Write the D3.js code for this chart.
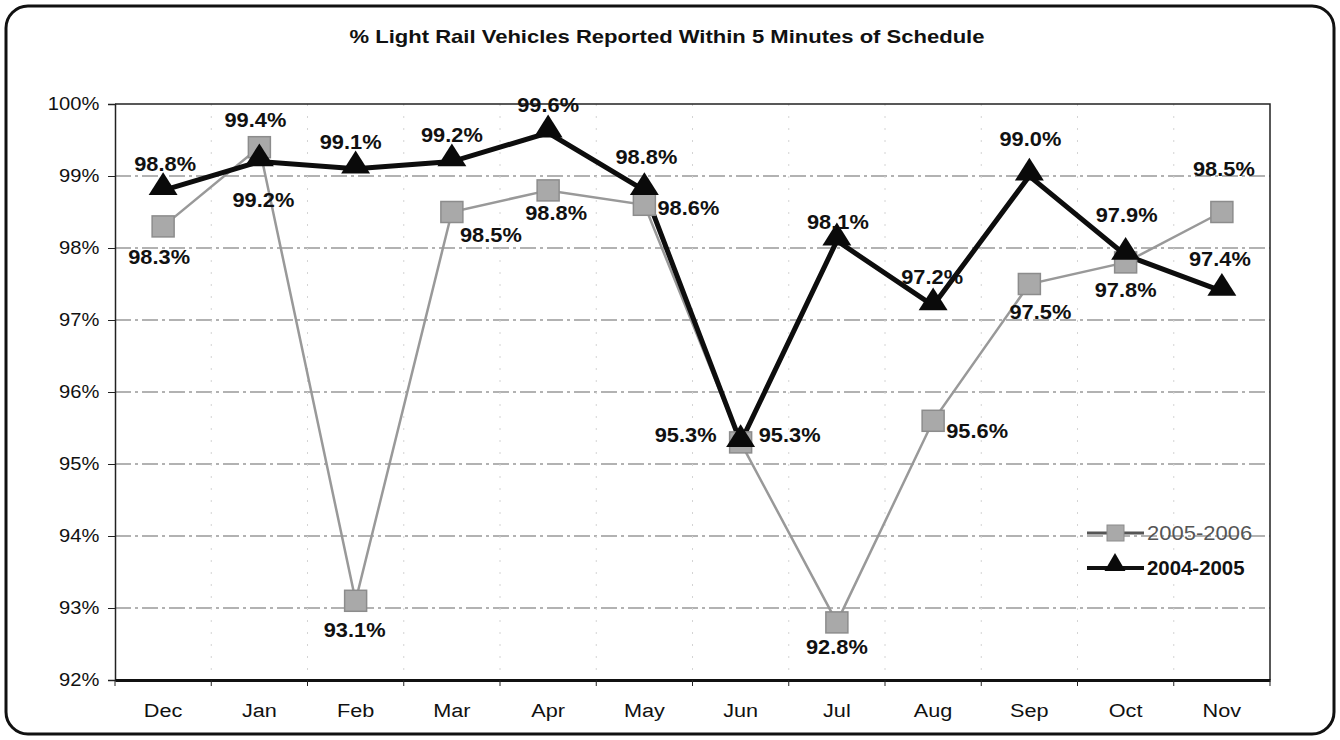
<!DOCTYPE html>
<html>
<head>
<meta charset="utf-8">
<script src="https://cdn.jsdelivr.net/npm/d3@7"></script>
<style>
  body { margin: 0; background: #fff; }
  text { font-family: "Liberation Sans", Arial, sans-serif; }
</style>
</head>
<body>
<svg id="chart" width="1340" height="740"></svg>
<script>
// data
var months = ["Dec", "Jan", "Feb", "Mar", "Apr", "May", "Jun", "Jul", "Aug", "Sep", "Oct", "Nov"];
var yTicks = [92, 93, 94, 95, 96, 97, 98, 99, 100];
var s2005 = [98.3, 99.4, 93.1, 98.5, 98.8, 98.6, 95.3, 92.8, 95.6, 97.5, 97.8, 98.5];
var s2004 = [98.8, 99.2, 99.1, 99.2, 99.6, 98.8, 95.3, 98.1, 97.2, 99.0, 97.9, 97.4];

// label placement, [dx, dy] from each point (layout only)
var off2005 = [[-4, 38], [-4, -20], [-1, 36], [39, 30], [8, 30], [44, 10], [-55, 0], [0, 32], [44, 17], [11, 35], [0, 35], [2, -36]];
var off2004 = [[2, -19], [4, 45], [-5, -20], [0, -20], [0, -21], [2, -26], [49, 0], [1, -12], [-1, -22], [1, -30], [1, -33], [-2, -25]];

var svg = d3.select("#chart");
var W = 1340, H = 740;

// the scanned original is a bit wider than it is tall, so text is stretched
function stretch(sel, s) {
  sel.each(function () {
    var t = d3.select(this);
    var tx = +t.attr("x") || 0, ty = +t.attr("y") || 0;
    t.attr("x", 0).attr("y", 0)
      .attr("transform", "translate(" + tx + "," + ty + ") scale(" + s + ",1)");
  });
}

// outer frame
svg.append("rect")
  .attr("x", 6).attr("y", 6).attr("width", W - 12).attr("height", H - 12)
  .attr("rx", 22).attr("ry", 22)
  .attr("fill", "#fff").attr("stroke", "#111").attr("stroke-width", 3);

svg.append("text")
  .attr("x", 667).attr("y", 43)
  .attr("text-anchor", "middle")
  .attr("font-size", 19).attr("font-weight", "bold").attr("fill", "#111")
  .text("% Light Rail Vehicles Reported Within 5 Minutes of Schedule")
  .call(stretch, 1.16);

var pL = 115, pR = 1270, pT = 104, pB = 680;

var x = d3.scaleBand().domain(months).range([pL, pR]);
var y = d3.scaleLinear().domain([92, 100]).range([pB, pT]);

// grid
svg.append("g").selectAll("line")
  .data(yTicks.slice(1, -1))
  .enter().append("line")
  .attr("x1", pL).attr("x2", pR)
  .attr("y1", function (d) { return y(d); })
  .attr("y2", function (d) { return y(d); })
  .attr("stroke", "#666").attr("stroke-width", 1.2)
  .attr("stroke-dasharray", "16,4,3,4");

svg.append("g").selectAll("line")
  .data(months.slice(1))
  .enter().append("line")
  .attr("x1", function (d) { return x(d); })
  .attr("x2", function (d) { return x(d); })
  .attr("y1", pT).attr("y2", pB)
  .attr("stroke", "#d4d4d4").attr("stroke-width", 1)
  .attr("stroke-dasharray", "2,10");

// plot border (top + right)
svg.append("path")
  .attr("d", "M" + pL + "," + pT + "H" + pR + "V" + pB)
  .attr("fill", "none").attr("stroke", "#222").attr("stroke-width", 1.5);

// axes
var yAxis = svg.append("g")
  .attr("transform", "translate(" + pL + ",0)")
  .call(d3.axisLeft(y).tickValues(yTicks).tickSize(7).tickPadding(7)
    .tickFormat(function (d) { return d + "%"; }));
yAxis.select(".domain").attr("stroke", "#222").attr("stroke-width", 1.5);
yAxis.selectAll("line").attr("stroke", "#222");
yAxis.selectAll("text").attr("font-size", 18).attr("fill", "#111")
  .style("font-family", "Liberation Sans, Arial, sans-serif")
  .attr("transform", "scale(1.12,1)");

var xAxis = svg.append("g")
  .attr("transform", "translate(0," + pB + ")")
  .call(d3.axisBottom(x).tickSize(0).tickPadding(24));
xAxis.select(".domain").attr("stroke", "#111").attr("stroke-width", 3);
xAxis.selectAll("text").attr("font-size", 19).attr("fill", "#111")
  .style("font-family", "Liberation Sans, Arial, sans-serif")
  .attr("transform", "scale(1.14,1)");

// tick marks at category boundaries
svg.append("g").selectAll("line")
  .data(d3.range(months.length + 1))
  .enter().append("line")
  .attr("x1", function (i) { return pL + i * x.step(); })
  .attr("x2", function (i) { return pL + i * x.step(); })
  .attr("y1", pB).attr("y2", pB + 6)
  .attr("stroke", "#222").attr("stroke-width", 1);

function cx(i) { return x(months[i]) + x.bandwidth() / 2; }

var line = d3.line()
  .x(function (d, i) { return cx(i); })
  .y(function (d) { return y(d); });

// 2005-2006 (gray)
svg.append("path").datum(s2005)
  .attr("d", line).attr("fill", "none")
  .attr("stroke", "#999").attr("stroke-width", 2.5);

// 2004-2005 (black)
svg.append("path").datum(s2004)
  .attr("d", line).attr("fill", "none")
  .attr("stroke", "#0d0d0d").attr("stroke-width", 5);

var sqW = 22, sqH = 21;
svg.append("g").selectAll("rect")
  .data(s2005)
  .enter().append("rect")
  .attr("x", function (d, i) { return cx(i) - sqW / 2; })
  .attr("y", function (d) { return y(d) - sqH / 2; })
  .attr("width", sqW).attr("height", sqH)
  .attr("fill", "#a9a9a9").attr("stroke", "#8c8c8c").attr("stroke-width", 1.5);

var tri = d3.symbol().type(d3.symbolTriangle).size(300);
svg.append("g").selectAll("path")
  .data(s2004)
  .enter().append("path")
  .attr("d", tri)
  .attr("transform", function (d, i) { return "translate(" + cx(i) + "," + (y(d) - 3) + ") scale(1.1,1)"; })
  .attr("fill", "#0a0a0a");

function labels(data, offs) {
  svg.append("g").selectAll("text")
    .data(data)
    .enter().append("text")
    .attr("x", function (d, i) { return cx(i) + offs[i][0]; })
    .attr("y", function (d, i) { return y(d) + offs[i][1]; })
    .attr("text-anchor", "middle")
    .attr("font-size", 20).attr("font-weight", "bold").attr("fill", "#111")
    .text(function (d) { return d.toFixed(1) + "%"; })
    .call(stretch, 1.09);
}
labels(s2005, off2005);
labels(s2004, off2004);

// legend
var lg = svg.append("g").attr("transform", "translate(1087,533)");
lg.append("line").attr("x1", 0).attr("x2", 57).attr("y1", 0).attr("y2", 0)
  .attr("stroke", "#555").attr("stroke-width", 3);
lg.append("rect").attr("x", 20).attr("y", -8).attr("width", 17).attr("height", 16)
  .attr("fill", "#a9a9a9").attr("stroke", "#8c8c8c");
lg.append("text").attr("x", 60).attr("y", 7).attr("font-size", 20).attr("fill", "#555")
  .text("2005-2006").call(stretch, 1.1);
lg.append("line").attr("x1", 0).attr("x2", 57).attr("y1", 35).attr("y2", 35)
  .attr("stroke", "#111").attr("stroke-width", 4);
lg.append("path").attr("d", d3.symbol().type(d3.symbolTriangle).size(190))
  .attr("transform", "translate(28,32)").attr("fill", "#0a0a0a");
lg.append("text").attr("x", 60).attr("y", 42).attr("font-size", 20).attr("font-weight", "bold")
  .attr("fill", "#111").text("2004-2005").call(stretch, 1.02);
</script>
</body>
</html>
